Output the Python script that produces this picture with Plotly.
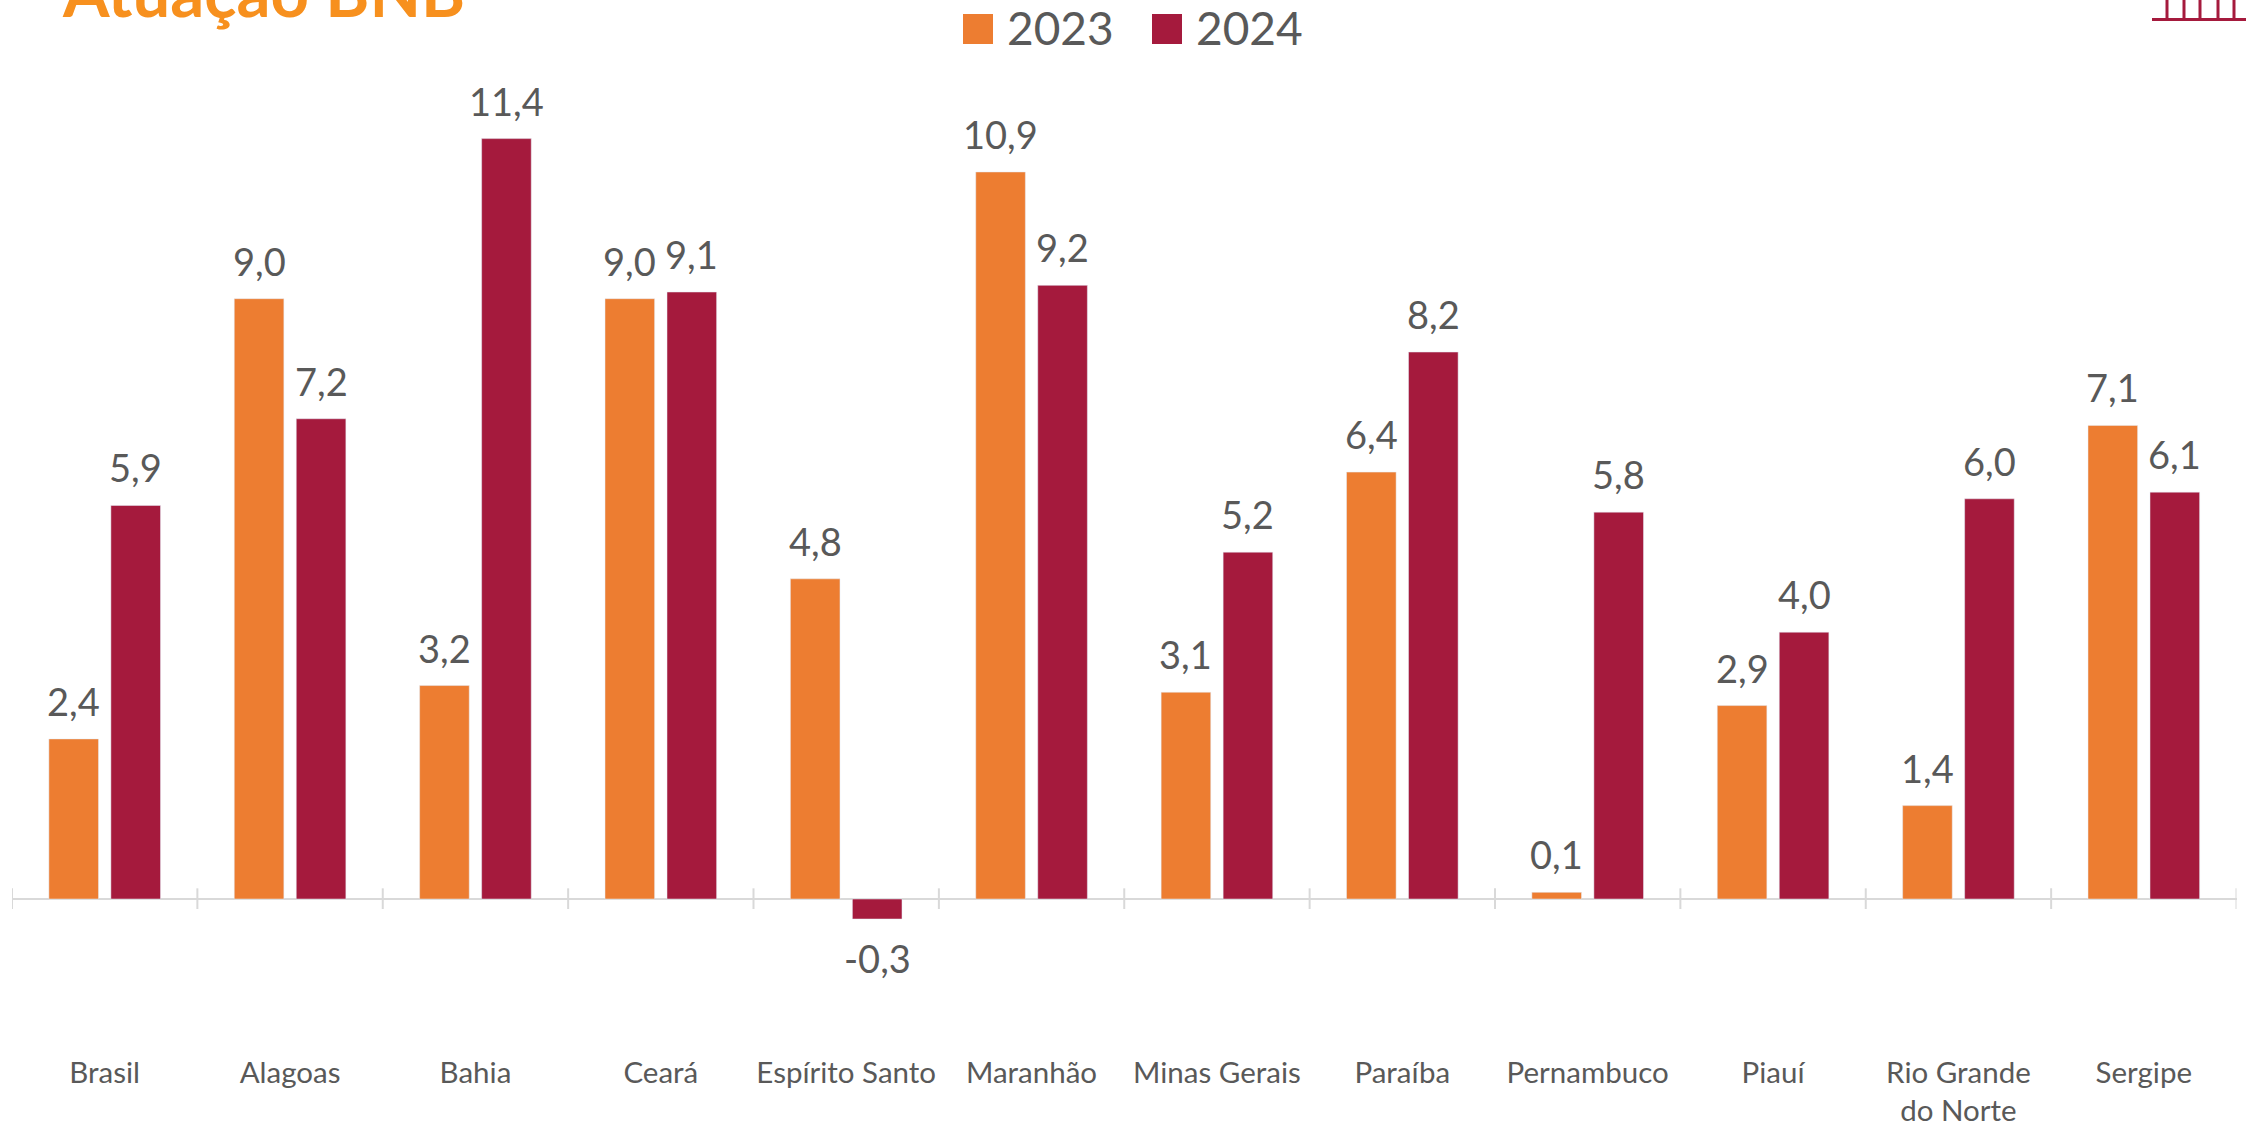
import plotly.graph_objects as go

W, H = 2246, 1125
categories = ["Brasil", "Alagoas", "Bahia", "Ceará", "Espírito Santo", "Maranhão", "Minas Gerais",
              "Paraíba", "Pernambuco", "Piauí", "Rio Grande<br>do Norte", "Sergipe"]
values_2023 = [2.4, 9.0, 3.2, 9.0, 4.8, 10.9, 3.1, 6.4, 0.1, 2.9, 1.4, 7.1]
values_2024 = [5.9, 7.2, 11.4, 9.1, -0.3, 9.2, 5.2, 8.2, 5.8, 4.0, 6.0, 6.1]
series = [("2023", values_2023, "#ED7D31", -31), ("2024", values_2024, "#A51A3D", 31)]

FONT = "Lato, Carlito, sans-serif"
TEXT = "#595959"
px = lambda x: x / W
py = lambda y: 1 - y / H

fig = go.Figure()
for name, vals, color, _ in series:
    fig.add_bar(name=name, x=categories, y=vals, marker_color=color, showlegend=False)

ann = []
for name, vals, color, dx in series:
    for c, v in zip(categories, vals):
        ann.append(dict(x=c, y=v, text=f"{v:.1f}".replace(".", ","), showarrow=False, xshift=dx,
                        yshift=38 if v >= 0 else -39, xanchor="center", yanchor="middle",
                        font=dict(family=FONT, size=38, color=TEXT)))

# title, cropped by the top of the page
ann.append(dict(xref="paper", yref="paper", x=px(60), y=py(33), text="<b>Atuação BNB</b>", showarrow=False,
                xanchor="left", yanchor="bottom", font=dict(family=FONT, size=67, color="#F7901E")))

shapes = []
# tick marks across the zero line
for i in range(len(categories) + 1):
    shapes.append(dict(type="line", xref="x", yref="y", x0=i - 0.5, x1=i - 0.5, y0=-0.15, y1=0.16,
                       line=dict(color="#D9D9D9", width=2), layer="below"))
# manual legend with large swatches
for (name, vals, color, _), sx, tx in zip(series, [963, 1152], [1005, 1194]):
    shapes.append(dict(type="rect", xref="paper", yref="paper", x0=px(sx), x1=px(sx + 30), y0=py(44), y1=py(14),
                       fillcolor=color, line=dict(width=0)))
    ann.append(dict(xref="paper", yref="paper", x=px(tx), y=py(27.5), text=name, showarrow=False,
                    xanchor="left", yanchor="middle", font=dict(family=FONT, size=46, color=TEXT)))
# logo fragment, top right
shapes.append(dict(type="line", xref="paper", yref="paper", x0=px(2152), x1=px(2246), y0=py(19.5), y1=py(19.5),
                   line=dict(color="#A51A3D", width=3)))
for lx in [2167, 2184, 2200, 2218, 2234]:
    shapes.append(dict(type="line", xref="paper", yref="paper", x0=px(lx), x1=px(lx), y0=py(19.5), y1=py(0),
                       line=dict(color="#A51A3D", width=3)))

fig.update_layout(
    width=W, height=H, autosize=False, margin=dict(l=0, r=0, t=0, b=0),
    paper_bgcolor="white", plot_bgcolor="white",
    barmode="group", bargap=0.331, bargroupgap=0.2,
    annotations=ann, shapes=shapes,
    font=dict(family=FONT, color=TEXT),
    xaxis=dict(domain=[px(12), px(2236.5)], type="category", showgrid=False, showline=False, ticks="",
               tickfont=dict(family=FONT, size=29.5, color=TEXT), tickangle=0, range=[-0.5, 11.5],
               automargin=False),
    yaxis=dict(domain=[py(1052), py(60)], range=[(899 - 1052) / 66.7, (899 - 60) / 66.7], showgrid=False,
               showticklabels=False, ticks="", showline=False, zeroline=True, zerolinecolor="#D9D9D9", zerolinewidth=2,
               automargin=False),
)
fig.write_html("out.html", config={"displayModeBar": False},
               post_script="document.body.style.margin='0';document.body.style.overflow='hidden';")
